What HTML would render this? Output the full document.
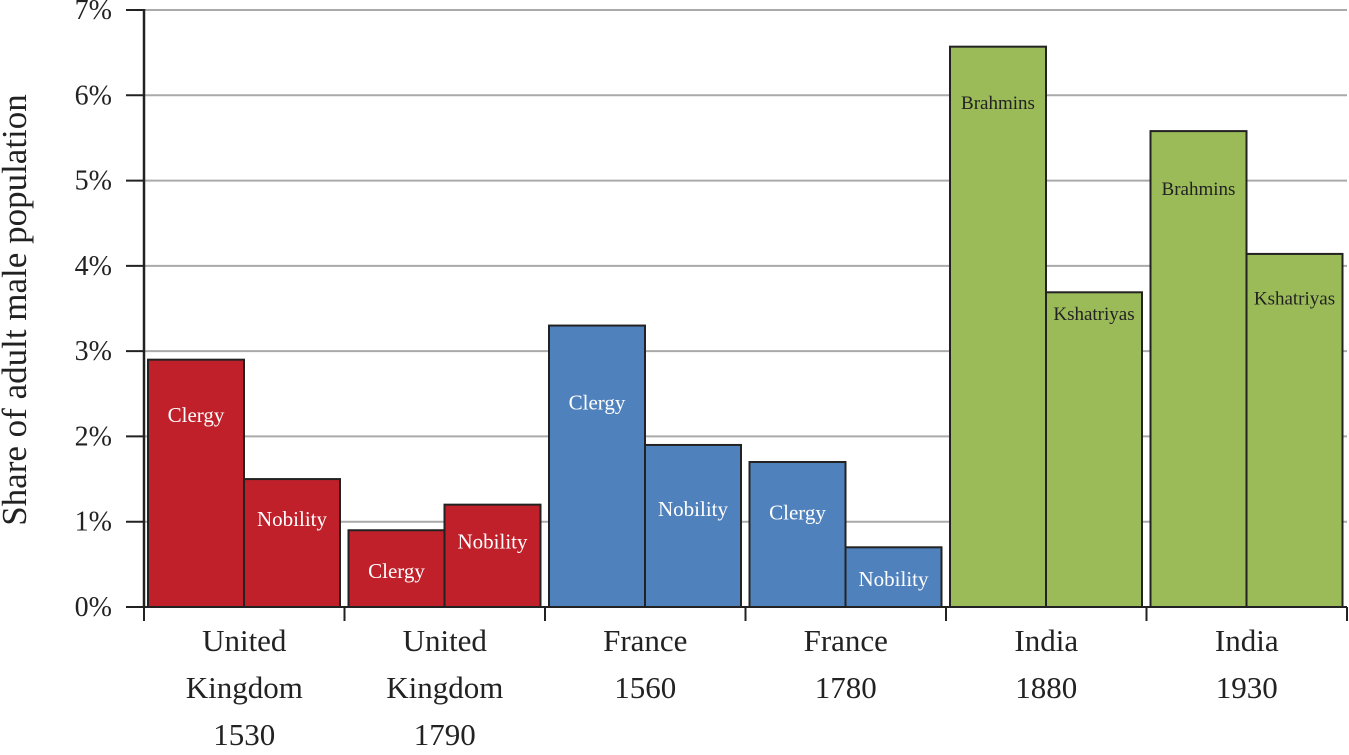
<!DOCTYPE html>
<html><head><meta charset="utf-8"><style>
html,body{margin:0;padding:0;background:#fff;}
svg text{font-family:"Liberation Serif",serif;}
</style></head><body>
<svg id="chart" width="1349" height="750" xmlns="http://www.w3.org/2000/svg"></svg>
<script>
const categories=[["United","Kingdom","1530"],["United","Kingdom","1790"],["France","1560"],["France","1780"],["India","1880"],["India","1930"]];
const firstValues=[2.9,0.9,3.3,1.7,6.57,5.58];
const secondValues=[1.5,1.2,1.9,0.7,3.69,4.14];
const firstNames=["Clergy","Clergy","Clergy","Clergy","Brahmins","Brahmins"];
const secondNames=["Nobility","Nobility","Nobility","Nobility","Kshatriyas","Kshatriyas"];
const firstLabelAt=[2.25,0.42,2.4,1.11,5.92,4.91];
const secondLabelAt=[1.03,0.77,1.15,0.33,3.45,3.63];
const groupColors=["#c0202a","#c0202a","#4f81bd","#4f81bd","#9bbb59","#9bbb59"];
const yTicks=[0,1,2,3,4,5,6,7];
const yTickLabels=["0%","1%","2%","3%","4%","5%","6%","7%"];

const svg=document.getElementById('chart');
const NS="http://www.w3.org/2000/svg";
const x0=144,x1=1347,y0=607,y7=10;
const yScale=v=>y0-(y0-y7)*v/7;
const gw=(x1-x0)/categories.length;
const gx=i=>x0+i*gw;
function mk(tag,attrs,name,parent){const e=document.createElementNS(NS,tag);for(const k in attrs)e.setAttribute(k,attrs[k]);


(parent||svg).appendChild(e);return e;}
yTicks.forEach((t,i)=>{const y=yScale(t);
 if(t>0)mk('line',{x1:x0,x2:x1,y1:y,y2:y,stroke:'#aaa','stroke-width':2},'gridline');
 mk('line',{x1:126,x2:x0,y1:y,y2:y,stroke:'#222','stroke-width':2},'y-tick');
 const tx=mk('text',{x:112,y:y+9,'text-anchor':'end','font-size':28,fill:'#222'},'y-tick-label');tx.textContent=yTickLabels[i];});
categories.forEach((c,i)=>{const bw=96,bx=gx(i)+4;
 [[firstValues[i],firstNames[i],firstLabelAt[i]],[secondValues[i],secondNames[i],secondLabelAt[i]]].forEach((d,j)=>{
  const x=bx+j*bw,y=yScale(d[0]);
  mk('rect',{x:x,y:y,width:bw,height:y0-y,fill:groupColors[i],stroke:'#222','stroke-width':2},'bar-'+d[1].toLowerCase());
  const t=mk('text',{x:x+bw/2,y:yScale(d[2])+7,'text-anchor':'middle','font-size':i>=4?19:21,fill:i>=4?'#222':'#fff'},'bar-label');t.textContent=d[1];
 });
 c.forEach((l,k)=>{const t=mk('text',{x:gx(i)+gw/2,y:651+k*47,'text-anchor':'middle','font-size':31,fill:'#222'},'x-category-label');t.textContent=l;});
});
mk('line',{x1:x0,x2:x0,y1:y7-1,y2:y0+1,stroke:'#222','stroke-width':2.5},'y-axis-line');
mk('line',{x1:x0,x2:x1,y1:y0,y2:y0,stroke:'#222','stroke-width':2},'x-axis-line');
for(let i=0;i<=categories.length;i++){mk('line',{x1:gx(i),x2:gx(i),y1:y0,y2:621,stroke:'#222','stroke-width':2},'x-tick');}
const yt=mk('text',{x:0,y:0,transform:'translate(26,310) rotate(-90)','text-anchor':'middle','font-size':35,fill:'#222'},'y-axis-title');yt.textContent="Share of adult male population";
</script>
</body></html>
